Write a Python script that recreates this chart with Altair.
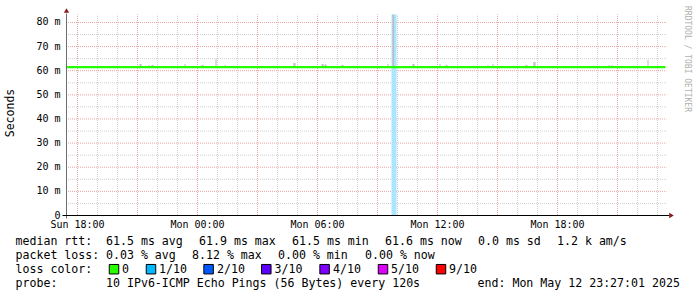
import altair as alt
import pandas as pd

# ---------------- data ----------------
# time axis in hours since Sun 17:27 (window end Mon 23:27:01)
MEDIAN_HOURS = [0.0, 8.0, 16.25, 16.5, 24.0, 29.95]
MEDIAN_MS = [61.5, 61.5, 61.5, 61.5, 61.5, 61.5]

SMOKE_START = [3.65, 4.10, 4.25, 5.90, 6.75, 7.45, 7.90, 11.35, 12.75, 12.90, 13.75,
               16.05, 16.30, 17.30, 18.65, 18.95, 21.05, 21.30, 22.95, 23.35, 27.10, 27.25, 29.05]
SMOKE_END = [3.75, 4.15, 4.35, 5.95, 6.85, 7.50, 7.95, 11.45, 12.85, 13.00, 13.85,
             16.10, 16.38, 17.40, 18.70, 19.05, 21.10, 21.35, 23.05, 23.45, 27.15, 27.30, 29.10]
SMOKE_TOP = [62.8, 62.4, 62.4, 62.8, 62.4, 64.9, 62.4, 63.2, 62.8, 62.6, 62.4,
             62.8, 83.3, 62.8, 62.8, 62.4, 62.4, 62.8, 62.4, 63.6, 62.4, 62.4, 64.4]
SMOKE_BASE = 61.5

LOSS_START = [16.25]
LOSS_END = [16.50]
LOSS_TOP = [83.3]

X_TICK_HOURS = [0.55, 6.55, 12.55, 18.55, 24.55]
X_TICK_LABELS = ["Sun 18:00", "Mon 00:00", "Mon 06:00", "Mon 12:00", "Mon 18:00"]
X_MAJOR_GRID = [0.55 + 3 * i for i in range(10)]
X_MINOR_GRID = [0.55 + i for i in range(30)]
Y_TICKS = [0, 10, 20, 30, 40, 50, 60, 70, 80]
Y_TICK_LABELS = ["0", "10 m", "20 m", "30 m", "40 m", "50 m", "60 m", "70 m", "80 m"]
Y_MINOR_GRID = [5, 15, 25, 35, 45, 55, 65, 75]
Y_MAJOR_GRID = [10, 20, 30, 40, 50, 60, 70, 80]
Y_TITLE = "Seconds"
WATERMARK = "RRDTOOL / TOBI OETIKER"

LINE1 = ["median rtt:", "61.5 ms avg", "61.9 ms max", "61.5 ms min", "61.6 ms now", "0.0 ms sd", "1.2 k am/s"]
LINE2 = ["packet loss:", "0.03 % avg", "8.12 % max", "0.00 % min", "0.00 % now"]
LINE3 = ["loss color:", "0", "1/10", "2/10", "3/10", "4/10", "5/10", "9/10"]
LINE4 = ["probe:", "10 IPv6-ICMP Echo Pings (56 Bytes) every 120s", "end: Mon May 12 23:27:01 2025"]
LOSS_COLORS = ["#26ff00", "#00b8ff", "#0059ff", "#5e00ff", "#7e00ff", "#dd00ff", "#ff0000"]

# ---------------- layout ----------------
PL, PT = 66.5, 14.5
W, H = 600, 201
X_MAX, Y_MAX = 30.0, 83.3
MONO = "DejaVu Sans Mono"

LINE1_X = [15.5, 106, 199, 292, 385, 478, 557]
LINE2_X = [15.5, 106, 192, 278, 365]
LINE3_X = [15.5, 122, 159, 217, 274.5, 333, 391, 449]
LINE4_X = [15.5, 106, 477.5]
LINE_Y = [245.3, 259.3, 273.3, 287.3]
SWATCH_X = [114, 151, 208.6, 266.3, 324.6, 383, 441]
SWATCH_Y = 269.2

xs = alt.Scale(domain=[0, X_MAX], nice=False, zero=False)
ys = alt.Scale(domain=[0, Y_MAX], nice=False, zero=True)

# ---------------- tables ----------------
median_df = pd.DataFrame({"h": MEDIAN_HOURS, "ms": MEDIAN_MS})
smoke_df = pd.DataFrame({"h0": SMOKE_START, "h1": SMOKE_END, "top": SMOKE_TOP,
                         "base": [SMOKE_BASE] * len(SMOKE_TOP)})
loss_df = pd.DataFrame({"h0": LOSS_START, "h1": LOSS_END, "top": LOSS_TOP,
                        "base": [0] * len(LOSS_TOP)})
xlab_df = pd.DataFrame({"h": X_TICK_HOURS, "t": X_TICK_LABELS})
ylab_df = pd.DataFrame({"v": Y_TICKS, "t": Y_TICK_LABELS})

rows = []
for texts, xpos, yv in [(LINE1, LINE1_X, LINE_Y[0]), (LINE2, LINE2_X, LINE_Y[1]),
                        (LINE3, LINE3_X, LINE_Y[2]), (LINE4, LINE4_X, LINE_Y[3])]:
    for t, xp in zip(texts, xpos):
        rows.append({"t": t, "px": xp - PL, "py": yv - PT})
text_df = pd.DataFrame(rows)
sw_df = pd.DataFrame({"c": LOSS_COLORS, "px": [v - PL for v in SWATCH_X],
                      "py": [SWATCH_Y - PT] * len(LOSS_COLORS)})

# ---------------- layers ----------------
grid_gray = "#cfcfcf"
grid_red = "#eba5a5"
dash = dict(strokeDash=[1, 1], strokeDashOffset=0.5, strokeWidth=1)

vmin = alt.Chart(pd.DataFrame({"h": X_MINOR_GRID})).mark_rule(color=grid_gray, **dash).encode(
    x=alt.X("h:Q", scale=xs, axis=None))
hmin = alt.Chart(pd.DataFrame({"v": Y_MINOR_GRID})).mark_rule(color=grid_gray, **dash).encode(
    y=alt.Y("v:Q", scale=ys, axis=None))
vmaj = alt.Chart(pd.DataFrame({"h": X_MAJOR_GRID})).mark_rule(color=grid_red, **dash).encode(
    x=alt.X("h:Q", scale=xs, axis=None))
hmaj = alt.Chart(pd.DataFrame({"v": Y_MAJOR_GRID})).mark_rule(color=grid_red, **dash).encode(
    y=alt.Y("v:Q", scale=ys, axis=None))

loss = alt.Chart(loss_df).mark_rect(color="#aae6ff").encode(
    x=alt.X("h0:Q", scale=xs, axis=None), x2="h1:Q",
    y=alt.Y("base:Q", scale=ys, axis=None), y2="top:Q")

smoke = alt.Chart(smoke_df).mark_rect(color="#bcbcbc").encode(
    x=alt.X("h0:Q", scale=xs, axis=None), x2="h1:Q",
    y=alt.Y("base:Q", scale=ys, axis=None), y2="top:Q")

line = alt.Chart(median_df).mark_line(color="#26ff00", strokeWidth=2.2, interpolate="step-after").encode(
    x=alt.X("h:Q", scale=xs, axis=None),
    y=alt.Y("ms:Q", scale=ys, axis=None))

xlabels = alt.Chart(xlab_df).mark_text(font=MONO, fontSize=10, color="#000000",
                                       align="center", baseline="middle").encode(
    x=alt.X("h:Q", scale=xs, axis=None), y=alt.value(H + 9.5), text="t:N")
ylabels = alt.Chart(ylab_df).mark_text(font=MONO, fontSize=10, color="#000000",
                                       align="right", baseline="middle").encode(
    y=alt.Y("v:Q", scale=ys, axis=None), x=alt.value(-6), text="t:N")

one = pd.DataFrame({"k": [0]})
ytitle = alt.Chart(one).mark_text(text=Y_TITLE, font=MONO, fontSize=11.5, color="#000000",
                                  angle=270, align="center", baseline="middle").encode(
    x=alt.value(10.5 - PL), y=alt.value(113 - PT))
yaxis_line = alt.Chart(one).mark_rule(color="#6e6e6e", strokeWidth=1).encode(
    x=alt.value(0), y=alt.value(-1), y2=alt.value(H + 3))
xaxis_line = alt.Chart(one).mark_rule(color="#000000", strokeWidth=1).encode(
    x=alt.value(-4), x2=alt.value(W + 3), y=alt.value(H))
arrow_up = alt.Chart(one).mark_point(shape="triangle-up", filled=True, color="#8b1c1c",
                                     size=28, opacity=1).encode(
    x=alt.value(0), y=alt.value(-4))
arrow_right = alt.Chart(one).mark_point(shape="triangle-right", filled=True, color="#8b1c1c",
                                        size=28, opacity=1).encode(
    x=alt.value(W + 5), y=alt.value(H))

watermark = alt.Chart(one).mark_text(
    text=WATERMARK, font=MONO, fontSize=8, color="#b0b0b0",
    angle=90, align="center", baseline="middle").encode(
    x=alt.value(687 - PL), y=alt.value(59 - PT))

legend_text = alt.Chart(text_df).mark_text(
    font=MONO, fontSize=11.6, color="#000000", align="left", baseline="alphabetic").encode(
    x=alt.X("px:Q", scale=None), y=alt.Y("py:Q", scale=None), text="t:N")

swatches = alt.Chart(sw_df).mark_square(size=90, opacity=1, stroke="#000000", strokeWidth=1).encode(
    x=alt.X("px:Q", scale=None), y=alt.Y("py:Q", scale=None),
    fill=alt.Fill("c:N", scale=None))

chart = alt.layer(
    vmin, hmin, vmaj, hmaj, loss, smoke, line,
    yaxis_line, xaxis_line, arrow_up, arrow_right, xlabels, ylabels, ytitle,
    watermark, legend_text, swatches
).properties(
    width=W, height=H,
    padding={"left": PL, "top": PT, "right": 697 - PL - W, "bottom": 297 - PT - H},
    autosize=alt.AutoSizeParams(type="none"),
    background="#ffffff",
).configure_view(stroke=None)

chart.save("out.html", embed_options={"renderer": "svg", "actions": False})
